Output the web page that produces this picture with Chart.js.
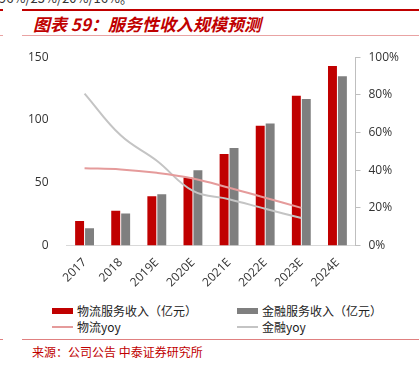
<!DOCTYPE html>
<html><head><meta charset="utf-8">
<script src="https://cdn.jsdelivr.net/npm/chart.js@4/dist/chart.umd.min.js"></script>
<style>
html,body{margin:0;padding:0;background:#fff;width:419px;height:370px;overflow:hidden;position:relative;font-family:"Noto Sans CJK SC","Noto Sans",sans-serif;}
.abs{position:absolute;}
#topline{left:22px;top:9px;width:397px;height:2px;background:#C00000;}
#topline2{left:0;top:9px;width:3px;height:2px;background:#C00000;}
#subline{left:22px;top:35px;width:397px;height:1px;background:#E9A3A3;}
#subline2{left:0;top:35px;width:3px;height:1px;background:#E9A3A3;}
#cut{left:-1px;top:-12px;font-size:13px;color:#333;white-space:nowrap;}
#title{left:33px;top:13px;font-size:17px;line-height:22px;color:#C00000;font-weight:bold;font-style:italic;white-space:nowrap;}
#chartbox{left:0;top:40px;width:419px;height:260px;}
.leg{font-size:12px;color:#222;white-space:nowrap;line-height:14px;}
.box{height:6px;width:21px;}
.ln{height:2px;width:21px;}
#foot{left:22px;top:339px;width:397px;height:1px;background:#E08080;}
#foot2{left:0;top:339px;width:3px;height:1px;background:#E08080;}
#src{left:32px;top:344px;font-size:12px;color:#C00000;white-space:nowrap;line-height:16px;}
</style></head>
<body>
<div class="abs" id="cut">96%/25%/20%/16%。</div>
<div class="abs" id="topline2"></div><div class="abs" id="topline"></div>
<div class="abs" id="title">图表 59：服务性收入规模预测</div>
<div class="abs" id="subline2"></div><div class="abs" id="subline"></div>
<div class="abs" id="chartbox"><canvas id="c" width="419" height="260"></canvas></div>

<div class="abs box" style="left:52px;top:308px;background:#C00000"></div>
<div class="abs leg" style="left:77px;top:304px">物流服务收入（亿元）</div>
<div class="abs box" style="left:237px;top:308px;background:#7F7F7F"></div>
<div class="abs leg" style="left:262px;top:304px">金融服务收入（亿元）</div>
<div class="abs ln" style="left:52px;top:326px;background:#E59B9B"></div>
<div class="abs leg" style="left:77px;top:320px">物流yoy</div>
<div class="abs ln" style="left:237px;top:326px;background:#C4C4C4"></div>
<div class="abs leg" style="left:262px;top:320px">金融yoy</div>

<div class="abs" id="foot2"></div><div class="abs" id="foot"></div>
<div class="abs" id="src">来源：公司公告 中泰证券研究所</div>
<script>
const categories = ['2017','2018','2019E','2020E','2021E','2022E','2023E','2024E'];
const logisticsRevenue = [19.5, 27.6, 39.2, 54.2, 72.9, 95.3, 119.2, 142.9];
const financeRevenue = [13.7, 25.5, 40.8, 60.0, 77.6, 97.1, 116.8, 134.8];
const logisticsYoy = [41.0, 40.4, 38.6, 35.6, 30.7, 25.4, 20.0, null];
const financeYoy = [80.7, 58.5, 45.0, 29.0, 24.6, 19.5, 14.6, null];
const leftTicks = [0, 50, 100, 150];
const rightTicks = [0, 20, 40, 60, 80, 100];

function draw(){
  const tickFont = {family:'"Open Sans"', size:12};
  new Chart(document.getElementById('c'), {
    data: {
      labels: categories,
      datasets: [
        {type:'line', label:'物流yoy', data:logisticsYoy, yAxisID:'y1', borderColor:'#E59B9B', borderWidth:2, pointRadius:0, tension:0.4, order:0},
        {type:'line', label:'金融yoy', data:financeYoy, yAxisID:'y1', borderColor:'#C4C4C4', borderWidth:2, pointRadius:0, tension:0.4, order:0},
        {type:'bar', label:'物流服务收入（亿元）', data:logisticsRevenue, yAxisID:'y', backgroundColor:'#C00000', categoryPercentage:0.55, barPercentage:0.9, order:1},
        {type:'bar', label:'金融服务收入（亿元）', data:financeRevenue, yAxisID:'y', backgroundColor:'#7F7F7F', categoryPercentage:0.55, barPercentage:0.9, order:1}
      ]
    },
    options: {
      responsive:false, animation:false,
      layout:{padding:{top:14.5, left:0, right:0, bottom:0}},
      plugins:{legend:{display:false}, tooltip:{enabled:false}},
      scales:{
        x:{
          grid:{display:false},
          border:{display:true, color:'#D9D9D9', width:1},
          ticks:{font:tickFont, color:'#333', maxRotation:45, minRotation:45, padding:2},
          afterFit:s=>{s.height=54.5;}
        },
        y:{
          position:'left', min:0, max:150,
          grid:{display:false}, border:{display:false},
          afterBuildTicks:s=>{s.ticks = leftTicks.map(v=>({value:v}));},
          ticks:{font:tickFont, color:'#333', padding:10},
          afterFit:s=>{s.width=66.5;}
        },
        y1:{
          position:'right', min:0, max:100,
          grid:{display:true, drawOnChartArea:false, tickLength:5, color:'#BFBFBF'},
          border:{display:true, color:'#BFBFBF', width:1},
          afterBuildTicks:s=>{s.ticks = rightTicks.map(v=>({value:v}));},
          ticks:{font:tickFont, color:'#333', padding:8, callback:v=>v+'%'},
          afterFit:s=>{s.width=63.5;}
        }
      }
    }
  });
}
Promise.all([document.fonts.load('12px "Open Sans"'), document.fonts.load('12px "Noto Sans CJK SC"')]).then(draw, draw);
</script>
</body></html>
